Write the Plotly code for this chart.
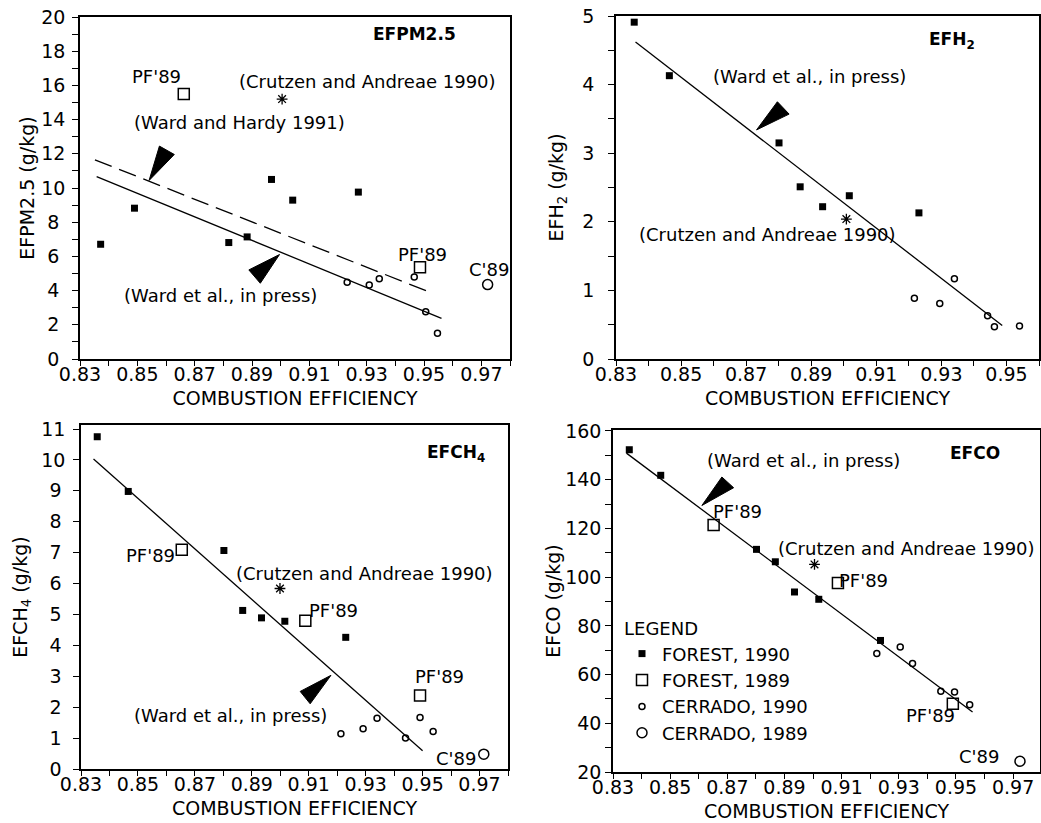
import plotly.graph_objects as go

# ---------------- data ----------------
# Panel A : EFPM2.5
pm_forest90_x = [0.8372, 0.8490, 0.8819, 0.8883, 0.8968, 0.9042, 0.9271]
pm_forest90_y = [6.71, 8.82, 6.81, 7.14, 10.50, 9.29, 9.76]
pm_forest89_x = [0.8662, 0.9486]
pm_forest89_y = [15.49, 5.37]
pm_cerr90_x = [0.9232, 0.9309, 0.9344, 0.9466, 0.9506, 0.9547]
pm_cerr90_y = [4.49, 4.33, 4.70, 4.80, 2.77, 1.50]
pm_cerr89_x = [0.9722]
pm_cerr89_y = [4.35]
pm_ca_x = [0.9005]
pm_ca_y = [15.2]
pm_ward_x = [0.8358, 0.9561]
pm_ward_y = [10.67, 2.38]
pm_hardy_x = [0.8352, 0.9512]
pm_hardy_y = [11.65, 3.96]
pm_ytick_vals = [0, 2, 4, 6, 8, 10, 12, 14, 16, 18, 20]
pm_ytick_text = ["0\u2008", "2\u2008", "4\u2008", "6\u2008", "8\u2008",
                 "10", "12", "14", "16", "18", "20"]

# Panel B : EFH2
h2_forest90_x = [0.8356, 0.8464, 0.8801, 0.8866, 0.8935, 0.9017, 0.9231]
h2_forest90_y = [4.91, 4.13, 3.15, 2.51, 2.22, 2.38, 2.13]
h2_cerr90_x = [0.9217, 0.9295, 0.9340, 0.9442, 0.9463, 0.9540]
h2_cerr90_y = [0.885, 0.81, 1.17, 0.63, 0.47, 0.48]
h2_ca_x = [0.9008]
h2_ca_y = [2.04]
h2_ward_x = [0.8360, 0.9487]
h2_ward_y = [4.62, 0.49]

# Panel C : EFCH4
ch4_forest90_x = [0.8357, 0.8466, 0.8802, 0.8868, 0.8934, 0.9016, 0.9230]
ch4_forest90_y = [10.75, 8.98, 7.07, 5.13, 4.89, 4.78, 4.26]
ch4_forest89_x = [0.8654, 0.9088, 0.9491]
ch4_forest89_y = [7.09, 4.80, 2.38]
ch4_cerr90_x = [0.9213, 0.9291, 0.9340, 0.9440, 0.9491, 0.9537]
ch4_cerr90_y = [1.14, 1.30, 1.64, 1.00, 1.67, 1.21]
ch4_cerr89_x = [0.9715]
ch4_cerr89_y = [0.48]
ch4_ca_x = [0.8999]
ch4_ca_y = [5.84]
ch4_ward_x = [0.8344, 0.9500]
ch4_ward_y = [10.03, 0.59]
ch4_ytick_vals = [0, 1, 2, 3, 4, 5, 6, 7, 8, 9, 10, 11]
ch4_ytick_text = ["0\u2009", "1\u2009", "2\u2009", "3\u2009", "4\u2009", "5\u2009",
                  "6\u2009", "7\u2009", "8\u2009", "9\u2009", "10", "11"]

# Panel D : EFCO
co_forest90_x = [0.8357, 0.8467, 0.8802, 0.8868, 0.8935, 0.9020, 0.9236]
co_forest90_y = [152.3, 141.8, 111.4, 106.3, 93.9, 90.9, 74.0]
co_forest89_x = [0.8652, 0.9087, 0.9489]
co_forest89_y = [121.4, 97.6, 48.0]
co_cerr90_x = [0.9223, 0.9305, 0.9348, 0.9447, 0.9495, 0.9548]
co_cerr90_y = [68.6, 71.3, 64.5, 53.2, 52.8, 47.6]
co_cerr89_x = [0.9724]
co_cerr89_y = [24.4]
co_ca_x = [0.9005]
co_ca_y = [105.2]
co_ward_x = [0.8347, 0.9558]
co_ward_y = [150.9, 44.6]

series_names = ["FOREST, 1990", "FOREST, 1989", "CERRADO, 1990", "CERRADO, 1989"]

# ---------------- styling ----------------
FONT = "DejaVu Sans"
BLACK = "black"
W, H = 1041, 823


def px_dom_x(a, b):
    return [a / W, b / W]


def px_dom_y(top, bottom):
    return [1 - bottom / H, 1 - top / H]


styles = {
    "FOREST, 1990": dict(symbol="square", size=7, color=BLACK, line=dict(width=0, color=BLACK)),
    "FOREST, 1989": dict(symbol="square-open", size=11, color=BLACK, line=dict(width=1.5, color=BLACK)),
    "CERRADO, 1990": dict(symbol="circle-open", size=6, color=BLACK, line=dict(width=1.5, color=BLACK)),
    "CERRADO, 1989": dict(symbol="circle-open", size=10, color=BLACK, line=dict(width=1.5, color=BLACK)),
}

fig = go.Figure()

panels = [
    dict(ax="", groups={"FOREST, 1990": (pm_forest90_x, pm_forest90_y),
                        "FOREST, 1989": (pm_forest89_x, pm_forest89_y),
                        "CERRADO, 1990": (pm_cerr90_x, pm_cerr90_y),
                        "CERRADO, 1989": (pm_cerr89_x, pm_cerr89_y)},
         ca=(pm_ca_x, pm_ca_y), fits=[(pm_ward_x, pm_ward_y, "solid"), (pm_hardy_x, pm_hardy_y, "18px,8px")]),
    dict(ax="2", groups={"FOREST, 1990": (h2_forest90_x, h2_forest90_y),
                         "CERRADO, 1990": (h2_cerr90_x, h2_cerr90_y)},
         ca=(h2_ca_x, h2_ca_y), fits=[(h2_ward_x, h2_ward_y, "solid")]),
    dict(ax="3", groups={"FOREST, 1990": (ch4_forest90_x, ch4_forest90_y),
                         "FOREST, 1989": (ch4_forest89_x, ch4_forest89_y),
                         "CERRADO, 1990": (ch4_cerr90_x, ch4_cerr90_y),
                         "CERRADO, 1989": (ch4_cerr89_x, ch4_cerr89_y)},
         ca=(ch4_ca_x, ch4_ca_y), fits=[(ch4_ward_x, ch4_ward_y, "solid")]),
    dict(ax="4", groups={"FOREST, 1990": (co_forest90_x, co_forest90_y),
                         "FOREST, 1989": (co_forest89_x, co_forest89_y),
                         "CERRADO, 1990": (co_cerr90_x, co_cerr90_y),
                         "CERRADO, 1989": (co_cerr89_x, co_cerr89_y)},
         ca=(co_ca_x, co_ca_y), fits=[(co_ward_x, co_ward_y, "solid")]),
]

for p in panels:
    xa, ya = "x" + p["ax"], "y" + p["ax"]
    for fx, fy, dash in p["fits"]:
        fig.add_trace(go.Scatter(x=fx, y=fy, mode="lines", xaxis=xa, yaxis=ya,
                                 line=dict(color=BLACK, width=1.3, dash=dash),
                                 showlegend=False, hoverinfo="skip"))
    for name in series_names:
        if name in p["groups"]:
            gx, gy = p["groups"][name]
            fig.add_trace(go.Scatter(x=gx, y=gy, mode="markers", name=name, xaxis=xa, yaxis=ya,
                                     marker=styles[name], legendgroup=name,
                                     showlegend=(p["ax"] == "4")))
    fig.add_trace(go.Scatter(x=p["ca"][0], y=p["ca"][1], mode="markers", xaxis=xa, yaxis=ya,
                             marker=dict(symbol="asterisk-open", size=9, color=BLACK,
                                         line=dict(width=1.3, color=BLACK)),
                             showlegend=False, name="Crutzen and Andreae 1990"))

# ---------------- axes ----------------
tickfont = dict(family=FONT, size=19, color=BLACK)
titlefont = dict(family=FONT, size=19, color=BLACK)


def xcfg(dom, rng, anchor):
    return dict(domain=dom, range=rng, anchor=anchor, tick0=0.83, dtick=0.02, tickformat=".2f",
                ticks="outside", ticklen=5, tickwidth=1.3, tickcolor=BLACK, automargin=False,
                showline=True, linecolor=BLACK, linewidth=1.5, mirror=True,
                showgrid=False, zeroline=False, tickfont=tickfont, ticklabelstandoff=-8,
                minor=dict(dtick=0.01, tick0=0.83, ticks="outside", ticklen=5,
                           tickwidth=1.3, tickcolor=BLACK, showgrid=False),
                title=dict(text="COMBUSTION EFFICIENCY", font=titlefont, standoff=8))


def ycfg(dom, rng, anchor, dtick, minor, title, tick0=0, standoff=4, lblgap=0,
         tickvals=None, ticktext=None):
    d = dict(domain=dom, range=rng, anchor=anchor, tick0=tick0, dtick=dtick,
             ticks="outside", ticklen=6, tickwidth=1.3, tickcolor=BLACK, automargin=False,
             showline=True, linecolor=BLACK, linewidth=1.5, mirror=True,
             showgrid=False, zeroline=False, tickfont=tickfont, ticklabelstandoff=lblgap,
             title=dict(text=title, font=titlefont, standoff=standoff))
    if tickvals is not None:
        d.update(tickmode="array", tickvals=tickvals, ticktext=ticktext)
    if minor:
        d["minor"] = dict(dtick=minor, tick0=tick0, ticks="outside", ticklen=6,
                          tickwidth=1.3, tickcolor=BLACK, showgrid=False)
    return d


fig.update_layout(
    xaxis=xcfg(px_dom_x(80, 510), [0.83, 0.98], "y"),
    yaxis=ycfg(px_dom_y(17, 359), [0, 20], "x", 2, 1, "EFPM2.5 (g/kg)", standoff=2, lblgap=3,
               tickvals=pm_ytick_vals, ticktext=pm_ytick_text),
    xaxis2=xcfg(px_dom_x(616, 1039), [0.83, 0.96], "y2"),
    yaxis2=ycfg(px_dom_y(16, 359), [0, 5], "x2", 1, 0.5, "EFH<sub>2</sub> (g/kg)", standoff=14, lblgap=10),
    xaxis3=xcfg(px_dom_x(81, 508), [0.83, 0.98], "y3"),
    yaxis3=ycfg(px_dom_y(425, 769), [0, 11.13], "x3", 1, None, "EFCH<sub>4</sub> (g/kg)", standoff=9,
                lblgap=4, tickvals=ch4_ytick_vals, ticktext=ch4_ytick_text),
    xaxis4=xcfg(px_dom_x(613, 1040), [0.83, 0.9794], "y4"),
    yaxis4=ycfg(px_dom_y(430, 772), [20, 160.4], "x4", 20, 10, "EFCO (g/kg)", tick0=20, standoff=0),
)

# ---------------- labels ----------------
labels = [
    ("", 0.9468, 19.02, "<b>EFPM2.5</b>", 17),
    ("", 0.8566, 16.53, "PF'89", 18),
    ("", 0.9302, 16.2, "(Crutzen and Andreae 1990)", 18),
    ("", 0.8857, 13.81, "(Ward and Hardy 1991)", 18),
    ("", 0.9495, 6.11, "PF'89", 18),
    ("", 0.9728, 5.21, "C'89", 18),
    ("", 0.8790, 3.71, "(Ward et al., in press)", 18),
    ("2", 0.9332, 4.64, "<b>EFH<sub>2</sub></b>", 17),
    ("2", 0.8896, 4.12, "(Ward et al., in press)", 18),
    ("2", 0.8766, 1.82, "(Crutzen and Andreae 1990)", 18),
    ("3", 0.9619, 10.22, "<b>EFCH<sub>4</sub></b>", 17),
    ("3", 0.8543, 6.91, "PF'89", 18),
    ("3", 0.9295, 6.34, "(Crutzen and Andreae 1990)", 18),
    ("3", 0.9187, 5.13, "PF'89", 18),
    ("3", 0.9561, 3.0, "PF'89", 18),
    ("3", 0.8824, 1.73, "(Ward et al., in press)", 18),
    ("3", 0.9619, 0.33, "C'89", 18),
    ("4", 0.9567, 150.9, "<b>EFCO</b>", 17),
    ("4", 0.8967, 147.9, "(Ward et al., in press)", 18),
    ("4", 0.8734, 127.0, "PF'89", 18),
    ("4", 0.9328, 111.7, "(Crutzen and Andreae 1990)", 18),
    ("4", 0.9176, 98.7, "PF'89", 18),
    ("4", 0.9410, 43.3, "PF'89", 18),
    ("4", 0.9579, 26.2, "C'89", 18),
]
for ax, lx, ly, txt, fs in labels:
    fig.add_annotation(x=lx, y=ly, xref="x" + ax, yref="y" + ax, text=txt, showarrow=False,
                       font=dict(family=FONT, size=fs, color=BLACK), xanchor="center", yanchor="middle")

# pointer wedges (annotation decoration)
wedges = [
    ("", [(0.8541, 10.44), (0.8577, 12.45), (0.8629, 11.96)]),
    ("", [(0.8996, 6.11), (0.8889, 5.21), (0.8929, 4.43)]),
    ("2", [(0.8732, 3.34), (0.8796, 3.75), (0.8832, 3.57)]),
    ("3", [(0.9178, 3.03), (0.9070, 2.51), (0.9105, 2.11)]),
    ("4", [(0.8611, 129.4), (0.8681, 141.1), (0.8722, 136.7)]),
]
for ax, pts in wedges:
    path = "M " + " L ".join(f"{a},{b}" for a, b in pts) + " Z"
    fig.add_shape(type="path", path=path, xref="x" + ax, yref="y" + ax,
                  fillcolor=BLACK, line=dict(color=BLACK, width=1))

fig.update_layout(
    width=W, height=H, margin=dict(l=0, r=0, t=0, b=0, autoexpand=False),
    paper_bgcolor="white", plot_bgcolor="white",
    font=dict(family=FONT, color=BLACK),
    legend=dict(x=622 / W, y=1 - 612 / H, xanchor="left", yanchor="top",
                title=dict(text="LEGEND", font=dict(family=FONT, size=18, color=BLACK)),
                font=dict(family=FONT, size=18, color=BLACK), bgcolor="rgba(0,0,0,0)",
                tracegroupgap=0, itemsizing="trace"),
)

fig.write_html("out.html")
